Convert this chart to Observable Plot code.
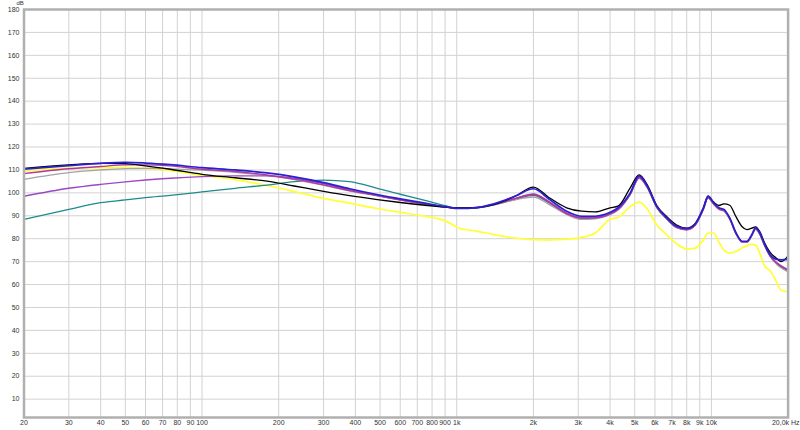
<!DOCTYPE html>
<html><head><meta charset="utf-8">
<script src="https://cdn.jsdelivr.net/npm/d3@7"></script>
<script src="https://cdn.jsdelivr.net/npm/@observablehq/plot@0.6"></script>
<style>
html,body{margin:0;padding:0;background:#fff;}
</style>
</head><body><div id="chart"></div>
<script>
const freqs = [20,30,40,50,60,75,100,135,180,230,300,380,480,600,750,900,1020,1200,1400,1700,2000,2300,2700,3100,3500,4000,4300,4800,5200,5600,6100,6700,7300,8000,8600,9300,9700,10200,10700,11200,11800,12500,13200,13800,14400,14900,15500,16200,17000,18000,18800,20000];

const yellowDb = [109.5,110.8,111.0,111.0,110.7,109.8,107.5,105.8,103.2,100.6,97.6,95.5,93.3,91.5,89.8,87.8,84.7,83.3,81.8,80.3,79.6,79.5,79.8,80.6,82.5,88.5,89.3,94.0,96.0,93.0,86.0,81.5,77.8,75.5,75.8,79.5,82.5,82.5,78.5,75.0,73.7,74.5,76.0,77.0,77.5,77.2,73.5,68.0,66.0,61.3,57.5,56.8];
const tealDb = [88.4,92.8,95.7,96.9,97.9,98.9,100.4,102.0,103.4,104.9,105.6,104.9,102.2,99.4,96.7,94.4,93.3,93.5,94.8,97.2,98.9,95.7,90.8,88.9,89.0,90.7,92.7,99.4,106.5,102.4,93.7,88.5,84.9,83.9,85.7,92.9,97.9,95.1,92.9,92.2,88.6,82.1,78.5,78.5,81.3,84.2,81.9,76.9,72.4,69.3,67.7,66.0];
const grayDb = [105.9,108.8,110.0,110.6,110.7,110.5,109.9,109.0,107.5,105.8,103.3,100.8,98.8,96.8,95.0,93.8,93.2,93.5,94.8,97.0,98.2,95.0,90.6,88.4,88.7,90.5,92.5,99.2,106.3,102.2,93.6,88.4,84.8,83.8,85.6,92.8,97.8,95.0,92.8,92.0,88.4,82.0,78.4,78.4,81.2,84.0,81.8,76.8,72.3,69.0,67.2,65.5];
const purpleDb = [98.5,102.0,103.7,104.8,105.6,106.4,107.1,107.4,107.4,106.4,104.0,101.3,99.0,97.0,95.2,93.9,93.3,93.6,95.0,97.6,99.5,96.2,91.2,89.2,89.2,90.9,92.9,99.6,106.8,102.6,93.9,88.7,85.1,84.1,85.9,93.1,98.1,95.3,93.1,92.4,88.8,82.3,78.7,78.7,81.5,84.4,82.1,77.1,72.6,69.6,68.2,66.5];
const magentaDb = [108.4,110.5,111.5,112.2,112.2,111.8,110.3,109.3,107.8,106.0,103.5,101.0,99.0,97.0,95.2,93.9,93.3,93.6,95.0,97.5,99.3,96.0,91.0,89.1,89.1,90.8,92.8,99.5,106.6,102.5,93.8,88.6,85.0,84.0,85.8,93.0,98.0,95.2,93.0,92.3,88.7,82.2,78.6,78.6,81.4,84.3,82.0,77.0,72.5,69.5,68.0,66.3];
const blackDb = [110.7,112.2,112.9,112.8,111.8,110.3,108.1,106.6,105.1,103.0,100.7,98.8,97.2,95.8,94.6,93.8,93.4,93.6,94.9,98.6,102.5,98.0,93.5,92.0,91.7,93.5,94.2,102.2,107.8,103.5,94.5,89.5,86.0,84.6,86.4,93.5,98.6,96.0,94.5,95.2,94.6,89.5,85.2,84.0,84.6,85.2,83.0,78.0,74.0,71.5,70.0,72.5];
const blueDb = [110.4,111.9,112.9,113.3,113.0,112.3,111.0,110.0,108.7,107.0,104.5,101.8,99.4,97.4,95.5,94.0,93.2,93.6,95.2,98.6,101.8,97.3,92.0,89.8,89.8,91.5,93.5,100.0,107.4,103.0,94.2,89.0,85.4,84.4,86.2,93.5,98.6,95.7,93.5,92.8,89.1,82.5,78.9,78.9,81.8,84.7,82.5,77.4,73.0,71.0,70.8,71.0];

const xTicks = [20,30,40,50,60,70,80,90,100,200,300,400,500,600,700,800,900,1000,2000,3000,4000,5000,6000,7000,8000,9000,10000,20000];
const xTickLabels = ["20","30","40","50","60","70","80","90","100","200","300","400","500","600","700","800","900","1k","2k","3k","4k","5k","6k","7k","8k","9k","10k","20,0k Hz"];
const yTicks = [10,20,30,40,50,60,70,80,90,100,110,120,130,140,150,160,170,180];
const yUnit = "dB";

const seriesOrder = [
  {values: yellowDb, color: "#ffff33", width: 1.7},
  {values: tealDb, color: "#1f8a8e", width: 1.3},
  {values: grayDb, color: "#a3a3a3", width: 1.3},
  {values: purpleDb, color: "#9a48c4", width: 1.4},
  {values: magentaDb, color: "#b1379f", width: 1.4},
  {values: blackDb, color: "#000000", width: 1.3},
  {values: blueDb, color: "#2a20d0", width: 1.7}
];

const labelMap = new Map(xTicks.map((t, i) => [t, xTickLabels[i]]));
const lastTick = xTicks[xTicks.length - 1];

const lineMarks = seriesOrder.map(s =>
  Plot.line(freqs.map((f, i) => ({f, db: s.values[i]})), {
    x: "f", y: "db", stroke: s.color, strokeWidth: s.width, curve: "monotone-x"
  })
);

const chart = Plot.plot({
  width: 800,
  height: 430,
  marginLeft: 23.5,
  marginRight: 12.4,
  marginTop: 9,
  marginBottom: 13,
  x: {type: "log", domain: [20, 20000], axis: null},
  y: {domain: [2, 180], axis: null},
  style: {fontFamily: "'Liberation Sans', Arial, sans-serif", fontSize: "7px", color: "#333", background: "#fff"},
  marks: [
    Plot.ruleX(xTicks, {stroke: "#d2d2d2", strokeWidth: 1}),
    Plot.ruleY(yTicks, {stroke: "#d2d2d2", strokeWidth: 1}),
    ...lineMarks,
    Plot.frame({stroke: "#b0b0b0", strokeWidth: 2.5}),
    Plot.text(xTicks.slice(0, -1), {x: d => d, frameAnchor: "bottom", dy: 7, text: d => labelMap.get(d), fill: "#333", textAnchor: "middle"}),
    Plot.text([lastTick], {x: d => d, frameAnchor: "bottom", dy: 7, dx: 11.5, text: d => labelMap.get(d), fill: "#333", textAnchor: "end"}),
    Plot.text(yTicks, {y: d => d, frameAnchor: "left", dx: -4.5, text: d => String(d), fill: "#333", textAnchor: "end"}),
    Plot.text([yUnit], {frameAnchor: "top-left", dx: -7.5, dy: -8.5, text: d => d, fill: "#333", fontSize: 6})
  ]
});
document.getElementById("chart").appendChild(chart);
</script>
</body></html>
